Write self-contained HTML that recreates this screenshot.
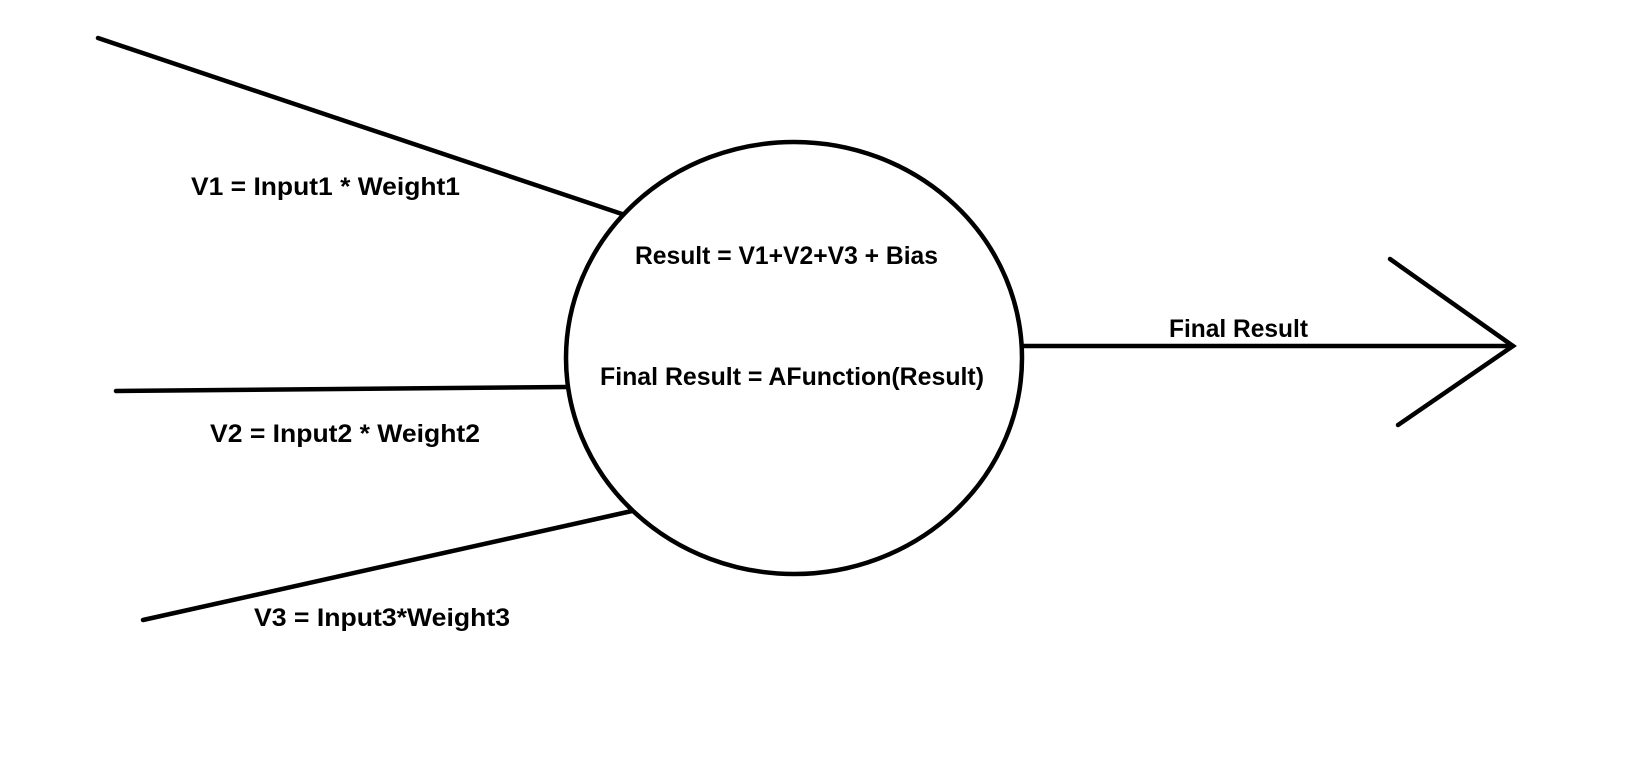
<!DOCTYPE html>
<html><head><style>html,body{margin:0;padding:0;background:#fff;}svg{display:block}</style></head>
<body>
<svg width="1652" height="774" viewBox="0 0 1652 774" xmlns="http://www.w3.org/2000/svg">
<g stroke="#000" stroke-width="4.5" fill="none" stroke-linecap="round">
<line x1="98" y1="38" x2="622" y2="214"/>
<line x1="116" y1="391" x2="567" y2="387"/>
<line x1="143" y1="620" x2="632" y2="511"/>
<ellipse cx="794" cy="358" rx="228" ry="216"/>
<line x1="1022" y1="346" x2="1513" y2="346"/>
<polyline points="1390,259 1513,346 1398,425" stroke-linejoin="miter"/>
</g>
<g font-family="'Liberation Sans', sans-serif" font-weight="bold" font-size="25" fill="#000">
<text x="191" y="195" textLength="269" lengthAdjust="spacingAndGlyphs">V1 = Input1 * Weight1</text>
<text x="210" y="442" textLength="270" lengthAdjust="spacingAndGlyphs">V2 = Input2 * Weight2</text>
<text x="254" y="626" textLength="256" lengthAdjust="spacingAndGlyphs">V3 = Input3*Weight3</text>
<text x="635" y="264" textLength="303" lengthAdjust="spacingAndGlyphs">Result = V1+V2+V3 + Bias</text>
<text x="600" y="385" textLength="384" lengthAdjust="spacingAndGlyphs">Final Result = AFunction(Result)</text>
<text x="1169" y="337" textLength="139" lengthAdjust="spacingAndGlyphs">Final Result</text>
</g>
</svg>
</body></html>
